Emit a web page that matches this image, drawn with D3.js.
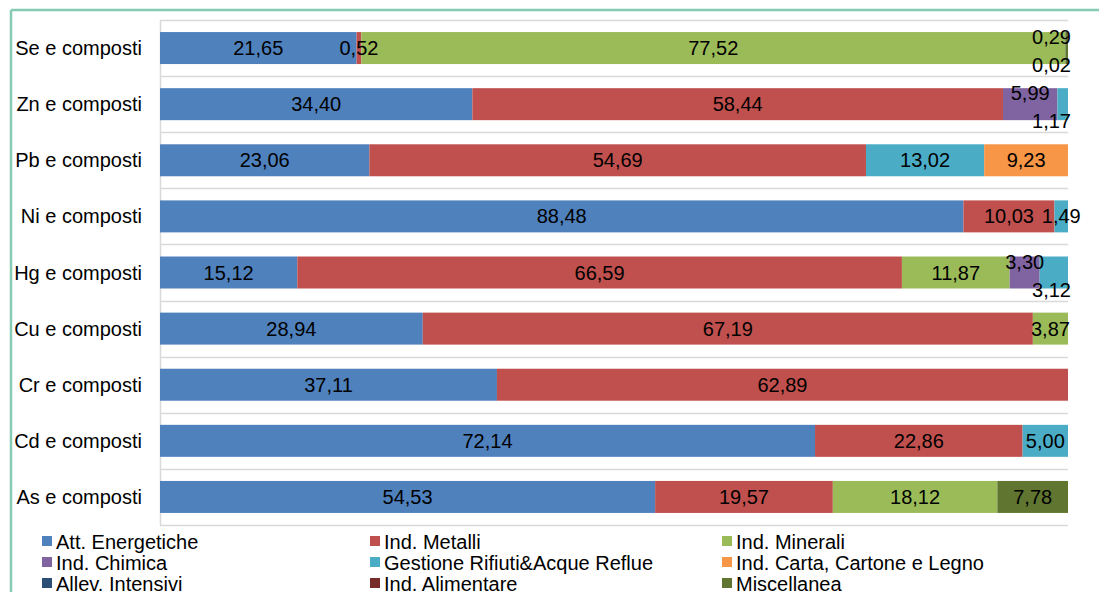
<!DOCTYPE html>
<html><head><meta charset="utf-8">
<script src="https://cdn.jsdelivr.net/npm/d3@7"></script>
<style>
html,body{margin:0;padding:0;background:#fff;}
svg{display:block;font-family:"Liberation Sans",Arial,sans-serif;}
</style></head>
<body><svg id="c" width="1099" height="592"></svg>
<script>
const categories = ["Se e composti","Zn e composti","Pb e composti","Ni e composti","Hg e composti","Cu e composti","Cr e composti","Cd e composti","As e composti"];
const seriesNames = ["Att. Energetiche","Ind. Metalli","Ind. Minerali","Ind. Chimica","Gestione Rifiuti&Acque Reflue","Ind. Carta, Cartone e Legno","Allev. Intensivi","Ind. Alimentare","Miscellanea"];
const seriesColors = ["#4f81bd","#c0504d","#9bbb59","#8064a2","#4bacc6","#f79646","#2c4d75","#772c2a","#5f7530"];
// values per series, aligned with categories (percent)
const attEnergetiche = [21.65,34.40,23.06,88.48,15.12,28.94,37.11,72.14,54.53];
const indMetalli     = [0.52,58.44,54.69,10.03,66.59,67.19,62.89,22.86,19.57];
const indMinerali    = [77.52,0,0,0,11.87,3.87,0,0,18.12];
const indChimica     = [0,5.99,0,0,3.30,0,0,0,0];
const gestioneRifiuti= [0.02,1.17,13.02,1.49,3.12,0,0,5.00,0];
const indCarta       = [0,0,9.23,0,0,0,0,0,0];
const allevIntensivi = [0,0,0,0,0,0,0,0,0];
const indAlimentare  = [0,0,0,0,0,0,0,0,0];
const miscellanea    = [0.29,0,0,0,0,0,0,0,7.78];
const seriesValues = [attEnergetiche,indMetalli,indMinerali,indChimica,gestioneRifiuti,indCarta,allevIntensivi,indAlimentare,miscellanea];

(function(){
const svg = d3.select("#c");
const W = 1099, H = 592, FS = 20;
svg.append("line").attr("x1",11).attr("x2",W).attr("y1",10).attr("y2",10).attr("stroke","#86cbb6").attr("stroke-width",2.5);
svg.append("line").attr("x1",11).attr("x2",11).attr("y1",10).attr("y2",H).attr("stroke","#86cbb6").attr("stroke-width",2.5);

const pL = 160, pR = 1068, pT = 20, pB = 525;
const x = d3.scaleLinear().domain([0,100]).range([pL,pR]);
const p = 0.43;
const y = d3.scaleBand().domain(categories).range([pT,pB]).paddingInner(p).paddingOuter(p/2);

const step = y.step();
const gl = d3.range(categories.length+1).map(i => pT + i*step);
svg.append("g").selectAll("line").data(gl).join("line")
  .attr("x1",pL).attr("x2",pR).attr("y1",d=>Math.round(d)+0.5).attr("y2",d=>Math.round(d)+0.5)
  .attr("stroke","#d9d9d9").attr("stroke-width",1.5);
svg.append("line").attr("x1",pL+0.5).attr("x2",pL+0.5).attr("y1",pT).attr("y2",pB)
  .attr("stroke","#d9d9d9").attr("stroke-width",1.5);

const rows = categories.map((c,i) => {
  const o = {cat:c};
  seriesNames.forEach((s,j)=>o[s]=seriesValues[j][i]);
  return o;
});
const stacked = d3.stack().keys(seriesNames)(rows);

const g = svg.append("g");
stacked.forEach((layer,j)=>{
  g.append("g").selectAll("rect").data(layer).join("rect")
    .attr("x",d=>x(d[0])).attr("width",d=>Math.max(0,x(d[1])-x(d[0])))
    .attr("y",d=>y(d.data.cat)).attr("height",y.bandwidth())
    .attr("fill",seriesColors[j]);
});

const fmt = v => v.toFixed(2).replace(".",",");
const labels = [];
const small = v=>v<7;
categories.forEach((c,i)=>{
  const segs = [];
  stacked.forEach((layer,j)=>{
    const d = layer[i];
    const v = seriesValues[j][i];
    if (v>0) segs.push({v, x0:x(d[0]), x1:x(d[1])});
  });
  segs.forEach((s,k)=>{
    let dy = 0;
    const cx = (s.x0+s.x1)/2;
    const next = segs[k+1], prev = segs[k-1];
    const partner = (small(s.v) && next && small(next.v)) ? next : (small(s.v) && prev && small(prev.v)) ? prev : null;
    if (partner) dy = (s.v >= partner.v) ? -11 : 17;
    labels.push({text:fmt(s.v), cx, cy:y(c)+y.bandwidth()/2+dy, shifted:dy!==0});
  });
});
const lt = svg.append("g").selectAll("text").data(labels).join("text")
  .attr("font-size",FS).attr("fill","#000").attr("text-anchor","middle")
  .attr("dominant-baseline","central")
  .attr("y",d=>d.cy).attr("x",d=>d.cx).text(d=>d.text);
lt.each(function(d){
  if (d.shifted){
    const w = this.getComputedTextLength();
    const maxC = pR + 3 - w/2;
    if (d.cx > maxC) d3.select(this).attr("x", maxC);
  }
});

svg.append("g").selectAll("text").data(categories).join("text")
  .attr("x",142).attr("y",d=>y(d)+y.bandwidth()/2).attr("text-anchor","end")
  .attr("dominant-baseline","central").attr("font-size",FS).attr("fill","#000").text(d=>d);

const colX = [42,370,722], rowY = [541,562,583];
const lg = svg.append("g");
seriesNames.forEach((s,i)=>{
  const cx = colX[i%3], cy = rowY[Math.floor(i/3)];
  lg.append("rect").attr("x",cx).attr("y",cy-5).attr("width",10).attr("height",10).attr("fill",seriesColors[i]);
  lg.append("text").attr("x",cx+14).attr("y",cy+1).attr("dominant-baseline","central")
    .attr("font-size",FS).attr("fill","#000").text(s);
});
})();
</script></body></html>
